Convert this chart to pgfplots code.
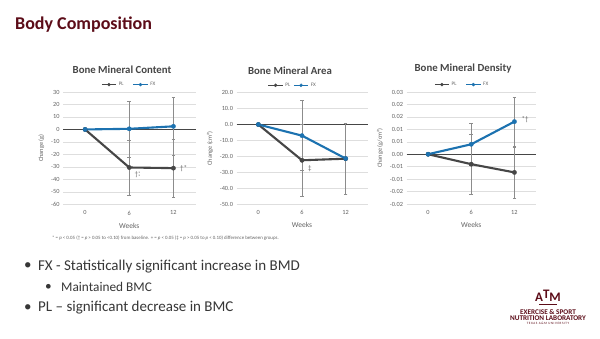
\documentclass[border=0pt]{standalone}
\usepackage{pgfplots}
\pgfplotsset{compat=1.18}
\usepackage{fontspec}
\setmainfont{Carlito}
\definecolor{maroon}{RGB}{92,12,24}
\definecolor{plgray}{RGB}{70,70,70}
\definecolor{fxblue}{RGB}{28,114,176}
\definecolor{tickgray}{RGB}{100,100,100}
\definecolor{gridgray}{RGB}{222,222,222}
\definecolor{errgray}{RGB}{140,140,140}
\definecolor{bodytext}{RGB}{55,55,55}

\pgfplotsset{
  bmstyle/.style={
    scale only axis, anchor=south west,
    xmin=-0.5, xmax=2.5, xtick={0,1,2}, xticklabels={0,6,12},
    axis line style={draw=none}, major tick length=0pt,
    scaled y ticks=false,
    ymajorgrids, grid style={gridgray, line width=0.5pt},
    extra y ticks={0}, extra y tick labels={},
    extra y tick style={grid style={plgray, line width=1pt}},
    tick label style={font=\fontsize{6.3}{7}\selectfont, text=tickgray},
    xticklabel style={yshift=-3pt},
    xlabel={Weeks}, xlabel style={font=\fontsize{7.5}{8}\selectfont, text=tickgray, yshift=-1pt},
    ylabel style={font=\fontsize{6.3}{7}\selectfont, text=tickgray},
    /pgf/number format/assume math mode=true,
    clip=false,
    legend style={draw=none, fill=none, font=\fontsize{5.2}{6}\selectfont, text=tickgray,
      at={(0.5,1.025)}, anchor=south, inner sep=0pt,
      /tikz/every even column/.append style={column sep=7pt}},
    legend columns=2,
    legend image code/.code={
      \draw[#1, mark repeat=2, mark phase=2, line width=1.4pt, mark size=1.6pt] plot coordinates {(0cm,0cm) (0.25cm,0cm) (0.5cm,0cm)};},
  },
  ser/.style={color=#1, line width=2.1pt, mark=*, mark size=2.2pt,
    mark options={fill=#1, draw=#1, line width=0.3pt},
    error bars/.cd, y dir=both, y explicit,
    error bar style={errgray, line width=0.45pt},
    error mark options={rotate=90, mark size=1.8pt, errgray, line width=0.45pt}},
}

\begin{document}
\begin{tikzpicture}
\useasboundingbox (0pt,0pt) rectangle (600pt,-338pt);
\fill[white] (0pt,0pt) rectangle (600pt,-338pt);

% slide title
\node[anchor=west, text=maroon, font=\fontsize{18}{20}\selectfont\bfseries, inner sep=0pt] at (15pt,-25pt) {Body Composition};

% ---- Chart 1 ----
\begin{axis}[bmstyle, at={(63pt,-204.3pt)}, width=132.5pt, height=112.3pt,
  ymin=-60, ymax=30, ytick={-60,-50,-40,-30,-20,-10,0,10,20,30},
  yticklabels={-60,-50,-40,-30,-20,-10,0,10,20,30},
  ylabel={Change (g)}]
\addplot[ser=plgray] table[x=x, y=y, y error=e] {
x y e
0 0 0
1 -30.5 22
2 -31 23
};
\addlegendentry{PL}
\addplot[ser=fxblue] table[x=x, y=y, y error=e] {
x y e
0 0 0
1 0.5 22.5
2 2.5 23
};
\addlegendentry{FX}
\node[text=tickgray, font=\fontsize{7}{7}\selectfont] at (axis cs:2.23,-31) {†*};
\node[text=tickgray, font=\fontsize{7}{7}\selectfont, inner sep=0pt] at (axis cs:1.19,-36.5) {†\rlap{\raisebox{1.5pt}{\fontsize{5}{4}\selectfont *}}\raisebox{-2pt}{\fontsize{5}{4}\selectfont *}};
\end{axis}
\node[font=\fontsize{10.8}{11}\selectfont\bfseries, text=plgray] at (122pt,-70pt) {Bone Mineral Content};

% ---- Chart 2 ----
\begin{axis}[bmstyle, at={(236.5pt,-204pt)}, width=131pt, height=111.3pt,
  ymin=-50, ymax=20, ytick={-50,-40,-30,-20,-10,0,10,20},
  yticklabels={-50.0,-40.0,-30.0,-20.0,-10.0,0.0,10.0,20.0},
  ylabel={Change (cm²)},
  legend style={at={(0.43,1.025)}, /tikz/every even column/.append style={column sep=1pt}}]
\addplot[ser=plgray] table[x=x, y=y, y error=e] {
x y e
0 0 0
1 -22.5 22.5
2 -21.5 22.5
};
\addlegendentry{PL}
\addplot[ser=fxblue] table[x=x, y=y, y error=e] {
x y e
0 0 0
1 -7 22
2 -21.4 22.5
};
\addlegendentry{FX}
\node[text=tickgray, font=\fontsize{7}{7}\selectfont] at (axis cs:1.18,-27.5) {‡};
\end{axis}
\node[font=\fontsize{10.8}{11}\selectfont\bfseries, text=plgray] at (290pt,-70.5pt) {Bone Mineral Area};

% ---- Chart 3 ----
\begin{axis}[bmstyle, at={(406.5pt,-204pt)}, width=129.5pt, height=112pt,
  ymin=-0.02, ymax=0.025,
  ytick={-0.02,-0.015,-0.01,-0.005,0,0.005,0.01,0.015,0.02,0.025},
  yticklabels={-0.02,-0.02,-0.01,-0.01,0.00,0.01,0.01,0.02,0.02,0.03},
  ylabel={Change (g/cm²)},
  legend style={at={(0.43,1.025)}}]
\addplot[ser=plgray] table[x=x, y=y, y error=e] {
x y e
0 0 0
1 -0.004 0.012
2 -0.0073 0.0102
};
\addlegendentry{PL}
\addplot[ser=fxblue] table[x=x, y=y, y error=e] {
x y e
0 0 0
1 0.004 0.0085
2 0.0131 0.0099
};
\addlegendentry{FX}
\node[text=tickgray, font=\fontsize{7}{7}\selectfont] at (axis cs:2.25,0.0138) {*†};
\end{axis}
\node[font=\fontsize{10.8}{11}\selectfont\bfseries, text=plgray] at (463pt,-69pt) {Bone Mineral Density};

% footnote
\node[anchor=west, inner sep=0pt, text=tickgray, font=\fontsize{4.9}{5}\selectfont] at (52pt,-237.7pt)
  {* = \textit{p} < 0.05 († = \textit{p} > 0.05 to <0.10) from baseline. + = \textit{p} < 0.05 (‡ = \textit{p} > 0.05 to \textit{p} < 0.10) difference between groups.};

% bullets
\begin{scope}[every node/.style={anchor=west, inner sep=0pt, text=bodytext}]
\node[font=\fontsize{15}{16}\selectfont] at (24pt,-266.5pt) {•};
\node[font=\fontsize{15}{16}\selectfont] at (38pt,-266.5pt) {FX - Statistically significant increase in BMD};
\node[font=\fontsize{13.3}{14}\selectfont] at (45pt,-287pt) {•};
\node[font=\fontsize{13.3}{14}\selectfont] at (61pt,-287pt) {Maintained BMC};
\node[font=\fontsize{15}{16}\selectfont] at (24pt,-308pt) {•};
\node[font=\fontsize{15}{16}\selectfont] at (38pt,-308pt) {PL – significant decrease in BMC};
\end{scope}

% logo
\node[text=maroon, font=\fontsize{13}{13}\selectfont\bfseries\rmfamily, inner sep=0pt] at (548pt,-296pt) {A\raisebox{2.5pt}{T}M};
\draw[maroon, line width=0.6pt] (539pt,-304.5pt) -- (557pt,-304.5pt);
\node[text=maroon, font=\fontsize{7.2}{7}\selectfont\bfseries, inner sep=0pt] at (548pt,-312.3pt) {EXERCISE \& SPORT};
\node[text=maroon, font=\fontsize{7.2}{7}\selectfont\bfseries, inner sep=0pt] at (548pt,-318.3pt) {NUTRITION LABORATORY};
\node[text=maroon, font=\fontsize{3.3}{3}\selectfont\rmfamily, inner sep=0pt] at (548pt,-323pt) {T\,E\,X\,A\,S\ \ A\,\&\,M\ \ U\,N\,I\,V\,E\,R\,S\,I\,T\,Y};
\end{tikzpicture}
\end{document}
